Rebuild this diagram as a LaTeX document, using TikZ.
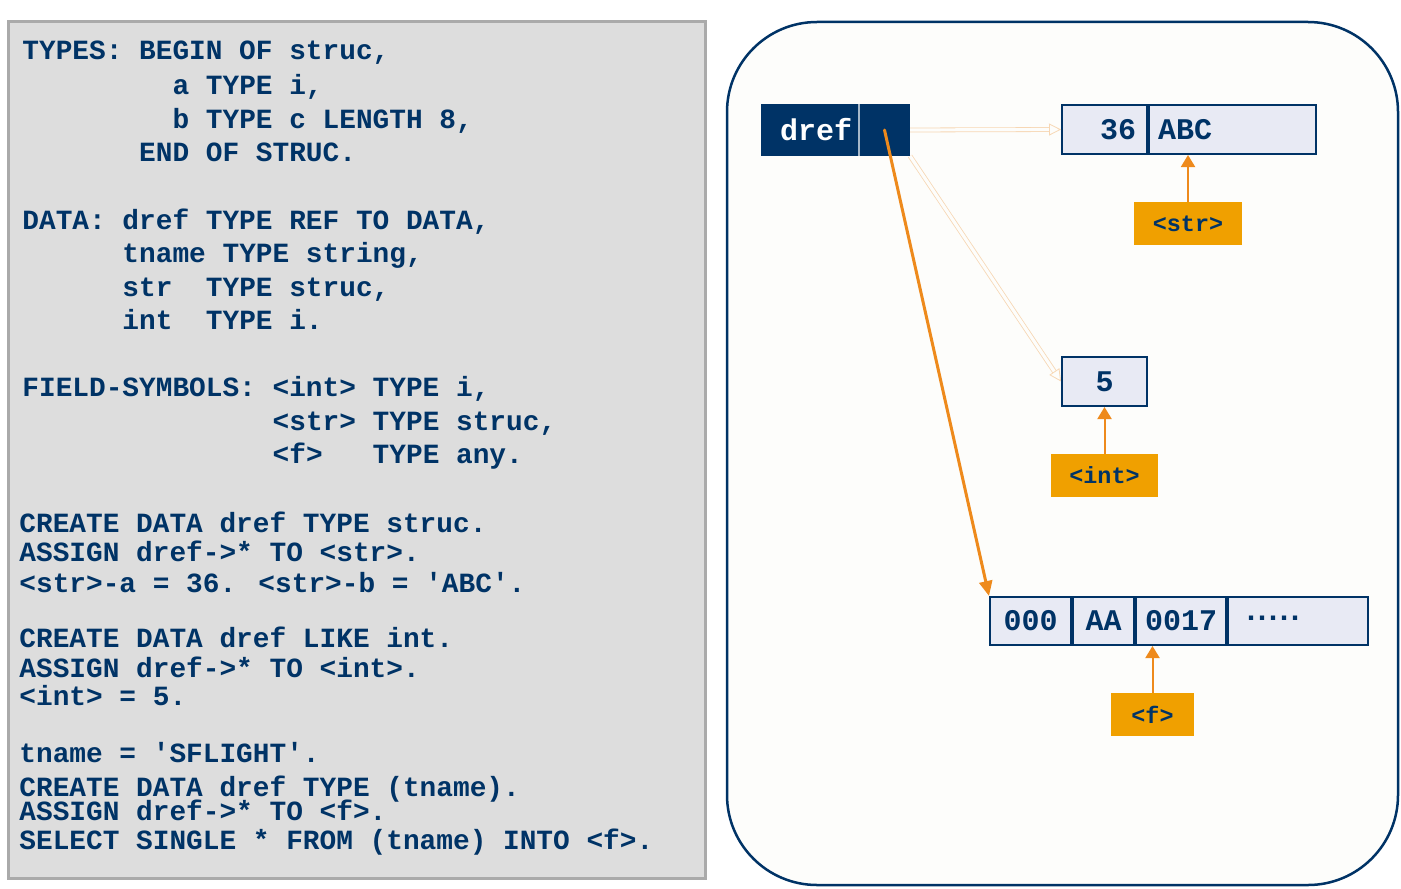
\documentclass[tikz,border=0pt]{standalone}
\usepackage{fontspec}
\usetikzlibrary{positioning,arrows.meta}
\newfontfamily\codefont{Liberation Mono}
\definecolor{navy}{HTML}{003366}
\definecolor{panelgray}{HTML}{DDDDDD}
\definecolor{panelline}{HTML}{AAAAAA}
\definecolor{cellfill}{HTML}{E8EAF4}
\definecolor{fsfill}{HTML}{F0A000}
\definecolor{refline}{HTML}{EE8A1C}
\definecolor{ghost}{HTML}{F7D7B4}
\definecolor{heapfill}{HTML}{FDFDFB}
\newcommand\q{\textquotesingle}
\newcommand\dotrow{\raisebox{2.5pt}{.\kern-3.5pt.\kern-3.5pt.\kern-3.5pt.\kern-3.5pt.}}
\tikzset{
  codeline/.style={anchor=base west, inner sep=0pt, text=navy, font=\codefont\bfseries\fontsize{13.9}{16}\selectfont},
  cell/.style={draw=navy, fill=cellfill, line width=1pt, minimum height=24.5pt, inner sep=0pt, text=navy, font=\codefont\bfseries\fontsize{15}{18}\selectfont},
  fsbox/.style={fill=fsfill, inner sep=0pt, minimum height=21.5pt, text=navy, font=\codefont\bfseries\fontsize{11.7}{14}\selectfont},
  fsarrow/.style={draw=refline, line width=1pt, -{Triangle[length=6pt,width=7pt]}},
  refarrow/.style={draw=refline, line width=1.5pt, line cap=round, -{Triangle[length=7.5pt,width=6.5pt]}},
  ghostarrow/.style={draw=ghost, line width=0.4pt, double=heapfill, double distance=1.6pt, -{Triangle[open,length=6pt,width=6pt]}}
}
\begin{document}
\begin{tikzpicture}[x=0.5pt,y=0.5pt]
\useasboundingbox (0,0) rectangle (1401,-888);
\draw[fill=panelgray, draw=panelline, line width=1.5pt] (8,-22) rectangle (705,-878);
\draw[fill=heapfill, draw=navy, line width=1.25pt, rounded corners=45pt] (727,-22) rectangle (1398,-885);
% program text
\node[codeline] (c1) at (22,-60) {TYPES: BEGIN OF struc,};
\node[codeline] (c2) at (22,-95) {~~~~~~~~~a TYPE i,};
\node[codeline] (c3) at (22,-128) {~~~~~~~~~b TYPE c LENGTH 8,};
\node[codeline] (c4) at (22,-162) {~~~~~~~END OF STRUC.};
\node[codeline] (c5) at (22,-229) {DATA: dref TYPE REF TO DATA,};
\node[codeline] (c6) at (22,-262) {~~~~~~tname TYPE string,};
\node[codeline] (c7) at (22,-296) {~~~~~~str~~TYPE struc,};
\node[codeline] (c8) at (22,-329) {~~~~~~int~~TYPE i.};
\node[codeline] (c9) at (22,-396) {FIELD-SYMBOLS: <int> TYPE i,};
\node[codeline] (c10) at (22,-430) {~~~~~~~~~~~~~~~<str> TYPE struc,};
\node[codeline] (c11) at (22,-463) {~~~~~~~~~~~~~~~<f>~~~TYPE any.};
\node[codeline] (c12) at (19,-532) {CREATE DATA dref TYPE struc.};
\node[codeline] (c13) at (19,-561) {ASSIGN dref->* TO <str>.};
\node[codeline] (c14) at (19,-592) {<str>-a = 36. <str>-b = \q ABC\q.};
\node[codeline] (c15) at (19,-647) {CREATE DATA dref LIKE int.};
\node[codeline] (c16) at (19,-677) {ASSIGN dref->* TO <int>.};
\node[codeline] (c17) at (19,-705) {<int> = 5.};
\node[codeline] (c18) at (19,-762) {tname = \q SFLIGHT\q.};
\node[codeline] (c19) at (19,-796) {CREATE DATA dref TYPE (tname).};
\node[codeline] (c20) at (19,-820) {ASSIGN dref->* TO <f>.};
\node[codeline] (c21) at (19,-849) {SELECT SINGLE * FROM (tname) INTO <f>.};
% memory
\node[cell, fill=navy, text=white, minimum width=48pt, minimum height=25pt, inner xsep=3pt, text width=42pt, align=right] (dref) at (810,-130) {dref};
\node[cell, fill=navy, minimum width=24.5pt, minimum height=25pt, right=0pt of dref] (ptr) {};
\draw[navy!35, line width=0.8pt] (dref.north east) -- (dref.south east);
\node[cell, minimum width=42.5pt, inner xsep=5.5pt, text width=31.5pt, align=right] (sa) at (1104.5,-129.5) {36};
\node[cell, minimum width=83.5pt, inner xsep=4.5pt, text width=74.5pt, align=left, right=0pt of sa] (sb) {ABC};
\node[fsbox, minimum width=54pt] (fsstr) at (1188,-223.5) {<str>};
\node[cell, minimum width=42.5pt] (ival) at (1104.5,-381.5) {5};
\node[fsbox, minimum width=53.5pt] (fsint) at (1104.5,-475.5) {<int>};
\node[cell, minimum width=40.5pt, minimum height=24pt] (f1) at (1030.5,-621) {000};
\node[cell, minimum width=30.5pt, minimum height=24pt, right=0pt of f1] (f2) {AA};
\node[cell, minimum width=45pt, minimum height=24pt, right=0pt of f2] (f3) {0017};
\node[cell, minimum width=70pt, minimum height=24pt, inner xsep=7pt, text width=56pt, align=left, right=0pt of f3] (f4) {\dotrow};
\node[fsbox, minimum width=41.5pt] (fsf) at (1152.5,-714.5) {<f>};
% references
\draw[ghostarrow] (ptr.east) -- (sa.west);
\draw[ghostarrow] (ptr.south east) -- (ival.west);
\draw[refarrow] (ptr.center) -- (f1.north west);
\draw[fsarrow] (fsstr.north) -- (fsstr.north |- sb.south);
\draw[fsarrow] (fsint.north) -- (ival.south);
\draw[fsarrow] (fsf.north) -- (fsf.north |- f3.south);
\end{tikzpicture}
\end{document}
